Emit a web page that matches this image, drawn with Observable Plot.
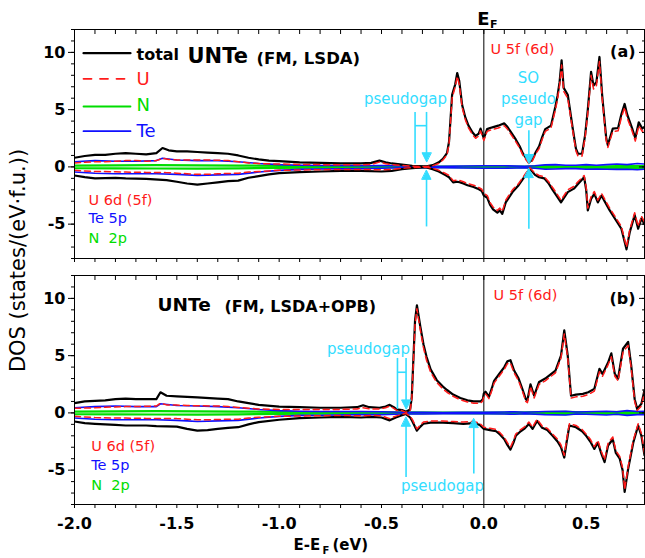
<!DOCTYPE html>
<html><head><meta charset="utf-8">
<script src="https://cdn.jsdelivr.net/npm/d3@7"></script>
<script src="https://cdn.jsdelivr.net/npm/@observablehq/plot@0.6"></script>
<style>
body{margin:0;background:#fff}
#wrap{position:relative;width:645px;height:558px;overflow:hidden;background:#fff}
</style></head><body>
<div id="wrap"></div>
<script>
// ---------- categories / tick labels ----------
const panels = ["a", "b"];
const xMajorTicks = [-2.0, -1.5, -1.0, -0.5, 0.0, 0.5];
const xMinorTicks = [-2.0,-1.9,-1.8,-1.7,-1.6,-1.5,-1.4,-1.3,-1.2,-1.1,-1.0,-0.9,-0.8,-0.7,-0.6,-0.5,-0.4,-0.3,-0.2,-0.1,0.0,0.1,0.2,0.3,0.4,0.5,0.6,0.7];
const yMajorTicks = [-5, 0, 5, 10];
const yMinorTicks = [-8,-7,-6,-5,-4,-3,-2,-1,0,1,2,3,4,5,6,7,8,9,10,11,12];
const legendNames = ["total", "U", "N", "Te"];
const compound = "UNTe";
const methods = ["(FM, LSDA)", "(FM, LSDA+OPB)"];
const panelTags = ["(a)", "(b)"];
const upperOrbital = "U 5f (6d)";
const lowerOrbitals = ["U 6d (5f)", "Te 5p", "N\u00a0 2p"];
const gapWord = "pseudogap";
const soGapWord = "SO\npseudo\ngap";
const fermiLabel = ["E", "F"];
const xTitle = ["E-E", "F", "(eV)"];
const yTitle = "DOS (states/(eV\u00b7f.u.))";

// pseudogap energies (eV)
const pseudogapA = [-0.336, -0.28];
const soPseudogapA = 0.22;
const pseudogapB = [-0.422, -0.38];
const pseudogapB2 = -0.049;

// ---------- panel (a): LSDA ----------
const totalUpA = [[-2.0,0.8],[-1.95,0.95],[-1.9,1.05],[-1.85,1.05],[-1.8,1.15],[-1.75,1.2],[-1.7,1.15],[-1.65,1.1],[-1.6,1.2],[-1.57,1.65],[-1.54,1.45],[-1.5,1.35],[-1.45,1.35],[-1.4,1.3],[-1.35,1.25],[-1.3,1.2],[-1.25,1.15],[-1.2,1.0],[-1.15,0.8],[-1.1,0.65],[-1.05,0.55],[-1.0,0.5],[-0.9,0.4],[-0.8,0.35],[-0.7,0.3],[-0.6,0.3],[-0.55,0.35],[-0.51,0.55],[-0.48,0.4],[-0.45,0.3],[-0.4,0.2],[-0.35,0.1],[-0.3,0.05],[-0.28,0.05],[-0.25,0.15],[-0.22,0.4],[-0.2,0.7],[-0.18,1.2],[-0.17,2.2],[-0.155,6.3],[-0.14,7.2],[-0.13,8.2],[-0.12,7.5],[-0.106,5.4],[-0.09,4.3],[-0.075,3.6],[-0.055,3.0],[-0.04,2.7],[-0.025,2.9],[-0.016,3.35],[-0.006,2.8],[0,2.5],[0.016,3.3],[0.03,3.4],[0.05,3.5],[0.07,3.6],[0.085,3.7],[0.1,3.8],[0.115,3.5],[0.13,3.1],[0.156,2.4],[0.175,1.8],[0.19,1.2],[0.205,0.8],[0.22,0.4],[0.235,0.6],[0.254,1.3],[0.27,1.8],[0.285,2.6],[0.3,3.3],[0.328,3.6],[0.35,5.3],[0.36,6.2],[0.37,7.4],[0.38,9.3],[0.39,6.9],[0.41,6.3],[0.434,3.4],[0.45,1.6],[0.46,1.15],[0.48,1.15],[0.495,2.8],[0.508,5.0],[0.524,8.3],[0.536,7.1],[0.55,7.4],[0.565,9.6],[0.578,6.3],[0.598,2.5],[0.606,1.9],[0.63,3.35],[0.656,3.4],[0.672,4.6],[0.688,5.5],[0.7,4.6],[0.725,3.35],[0.74,2.5],[0.757,3.9],[0.774,3.35],[0.785,3.5]];
const totalDnA = [[-2.0,-0.75],[-1.95,-0.9],[-1.9,-1.0],[-1.8,-0.95],[-1.75,-1.0],[-1.65,-1.05],[-1.55,-1.15],[-1.5,-1.3],[-1.45,-1.45],[-1.4,-1.55],[-1.35,-1.45],[-1.3,-1.35],[-1.25,-1.25],[-1.2,-1.2],[-1.15,-0.95],[-1.1,-0.8],[-1.05,-0.65],[-1.0,-0.55],[-0.9,-0.45],[-0.8,-0.4],[-0.7,-0.35],[-0.6,-0.35],[-0.5,-0.4],[-0.45,-0.35],[-0.4,-0.2],[-0.35,-0.1],[-0.3,-0.05],[-0.28,-0.05],[-0.25,-0.2],[-0.22,-0.4],[-0.19,-0.7],[-0.17,-0.9],[-0.15,-1.35],[-0.13,-1.3],[-0.115,-1.35],[-0.1,-1.45],[-0.08,-1.6],[-0.05,-1.75],[-0.03,-1.9],[-0.01,-2.1],[0,-2.5],[0.017,-2.7],[0.03,-3.3],[0.045,-3.7],[0.066,-4.0],[0.078,-3.8],[0.09,-4.1],[0.107,-3.1],[0.14,-2.2],[0.17,-1.6],[0.205,-0.7],[0.225,-0.15],[0.25,-0.7],[0.27,-0.9],[0.295,-1.0],[0.315,-1.4],[0.336,-2.0],[0.355,-2.5],[0.377,-3.1],[0.41,-2.2],[0.44,-1.9],[0.46,-1.5],[0.49,-0.9],[0.5,-2.0],[0.508,-3.8],[0.524,-2.8],[0.54,-2.35],[0.557,-3.1],[0.575,-2.5],[0.59,-3.0],[0.615,-3.8],[0.647,-4.7],[0.672,-5.4],[0.697,-7.2],[0.713,-5.7],[0.737,-4.2],[0.754,-5.4],[0.77,-4.5],[0.785,-5.0]];
const uUpA = [[-2.0,0.35],[-1.95,0.4],[-1.9,0.45],[-1.85,0.45],[-1.8,0.5],[-1.75,0.55],[-1.7,0.55],[-1.65,0.5],[-1.6,0.55],[-1.57,0.75],[-1.54,0.65],[-1.5,0.6],[-1.45,0.6],[-1.4,0.6],[-1.35,0.6],[-1.3,0.58],[-1.25,0.55],[-1.2,0.45],[-1.15,0.35],[-1.1,0.3],[-1.05,0.27],[-1.0,0.25],[-0.9,0.22],[-0.8,0.2],[-0.7,0.18],[-0.6,0.18],[-0.55,0.22],[-0.51,0.42],[-0.48,0.28],[-0.45,0.2],[-0.4,0.12],[-0.35,0.06],[-0.3,0.03],[-0.28,0.03],[-0.25,0.1],[-0.22,0.3],[-0.2,0.6],[-0.18,1.05],[-0.17,2.0],[-0.155,6.0],[-0.14,7.0],[-0.13,7.9],[-0.12,7.2],[-0.106,5.2],[-0.09,4.1],[-0.075,3.4],[-0.055,2.8],[-0.04,2.5],[-0.025,2.7],[-0.016,3.15],[-0.006,2.6],[0,2.3],[0.016,3.1],[0.03,3.2],[0.05,3.3],[0.07,3.4],[0.085,3.5],[0.1,3.6],[0.115,3.3],[0.13,2.9],[0.156,2.2],[0.175,1.65],[0.19,1.05],[0.205,0.65],[0.22,0.3],[0.235,0.45],[0.254,1.15],[0.27,1.6],[0.285,2.4],[0.3,3.1],[0.328,3.4],[0.35,5.0],[0.36,5.9],[0.37,7.1],[0.38,8.9],[0.39,6.6],[0.41,6.0],[0.434,3.2],[0.45,1.4],[0.46,0.95],[0.48,0.95],[0.495,2.6],[0.508,4.7],[0.524,8.0],[0.536,6.8],[0.55,7.1],[0.565,9.2],[0.578,6.0],[0.598,2.3],[0.606,1.7],[0.63,3.1],[0.656,3.15],[0.672,4.3],[0.688,5.2],[0.7,4.3],[0.725,3.1],[0.74,2.25],[0.757,3.6],[0.774,3.1],[0.785,3.2]];
const uDnA = [[-2.0,-0.3],[-1.95,-0.35],[-1.9,-0.4],[-1.8,-0.42],[-1.75,-0.45],[-1.65,-0.48],[-1.55,-0.5],[-1.5,-0.55],[-1.45,-0.6],[-1.4,-0.65],[-1.35,-0.65],[-1.3,-0.6],[-1.25,-0.58],[-1.2,-0.55],[-1.15,-0.45],[-1.1,-0.4],[-1.05,-0.35],[-1.0,-0.3],[-0.9,-0.27],[-0.8,-0.25],[-0.7,-0.22],[-0.6,-0.22],[-0.5,-0.25],[-0.45,-0.22],[-0.4,-0.12],[-0.35,-0.06],[-0.3,-0.03],[-0.28,-0.03],[-0.25,-0.12],[-0.22,-0.3],[-0.19,-0.55],[-0.17,-0.75],[-0.15,-1.2],[-0.13,-1.15],[-0.115,-1.2],[-0.1,-1.3],[-0.08,-1.45],[-0.05,-1.6],[-0.03,-1.75],[-0.01,-1.95],[0,-2.3],[0.017,-2.5],[0.03,-3.1],[0.045,-3.5],[0.066,-3.8],[0.078,-3.6],[0.09,-3.9],[0.107,-2.9],[0.14,-2.0],[0.17,-1.45],[0.205,-0.55],[0.225,-0.08],[0.25,-0.55],[0.27,-0.75],[0.295,-0.85],[0.315,-1.25],[0.336,-1.8],[0.355,-2.3],[0.377,-2.9],[0.41,-2.0],[0.44,-1.7],[0.46,-1.3],[0.49,-0.75],[0.5,-1.8],[0.508,-3.6],[0.524,-2.6],[0.54,-2.15],[0.557,-2.9],[0.575,-2.3],[0.59,-2.8],[0.615,-3.6],[0.647,-4.5],[0.672,-5.2],[0.697,-7.0],[0.713,-5.5],[0.737,-4.0],[0.754,-5.2],[0.77,-4.3],[0.785,-4.8]];
const teUpA = [[-2.0,0.45],[-1.9,0.55],[-1.8,0.5],[-1.7,0.5],[-1.6,0.55],[-1.57,0.75],[-1.5,0.6],[-1.4,0.55],[-1.3,0.55],[-1.2,0.45],[-1.1,0.3],[-1.0,0.2],[-0.9,0.15],[-0.8,0.12],[-0.6,0.1],[-0.5,0.12],[-0.4,0.08],[-0.3,0.04],[-0.2,0.05],[-0.1,0.08],[0,0.1],[0.1,0.1],[0.2,0.06],[0.25,0.1],[0.3,0.18],[0.35,0.2],[0.4,0.15],[0.45,0.15],[0.5,0.2],[0.55,0.15],[0.6,0.2],[0.65,0.25],[0.7,0.2],[0.75,0.3],[0.785,0.25]];
const teDnA = [[-2.0,-0.45],[-1.9,-0.55],[-1.8,-0.6],[-1.7,-0.6],[-1.6,-0.6],[-1.5,-0.65],[-1.45,-0.7],[-1.4,-0.75],[-1.3,-0.7],[-1.2,-0.65],[-1.1,-0.45],[-1.0,-0.3],[-0.9,-0.22],[-0.8,-0.18],[-0.6,-0.15],[-0.5,-0.12],[-0.4,-0.08],[-0.3,-0.04],[-0.2,-0.06],[-0.1,-0.1],[0,-0.12],[0.1,-0.12],[0.2,-0.08],[0.25,-0.12],[0.3,-0.2],[0.35,-0.18],[0.4,-0.15],[0.45,-0.15],[0.5,-0.2],[0.55,-0.18],[0.6,-0.2],[0.65,-0.22],[0.7,-0.2],[0.75,-0.25],[0.785,-0.2]];
const nUpA = [[-2.0,0.12],[-1.8,0.14],[-1.6,0.15],[-1.4,0.14],[-1.2,0.12],[-1.0,0.08],[-0.8,0.06],[-0.6,0.05],[-0.4,0.03],[-0.2,0.02],[0.0,0.03],[0.2,0.03],[0.3,0.1],[0.35,0.05],[0.45,0.04],[0.5,0.08],[0.6,0.05],[0.7,0.1],[0.785,0.08]];
const nDnA = [[-2.0,-0.12],[-1.8,-0.13],[-1.6,-0.14],[-1.4,-0.15],[-1.2,-0.13],[-1.0,-0.09],[-0.8,-0.06],[-0.6,-0.05],[-0.4,-0.03],[-0.2,-0.03],[0.0,-0.04],[0.2,-0.03],[0.3,-0.08],[0.35,-0.06],[0.45,-0.05],[0.5,-0.08],[0.6,-0.06],[0.7,-0.1],[0.785,-0.08]];

// ---------- panel (b): LSDA+OPB ----------
const totalUpB = [[-2.0,0.85],[-1.95,1.0],[-1.9,1.05],[-1.85,1.1],[-1.8,1.2],[-1.75,1.25],[-1.7,1.2],[-1.65,1.2],[-1.6,1.2],[-1.58,1.8],[-1.55,1.5],[-1.5,1.45],[-1.45,1.4],[-1.4,1.35],[-1.3,1.25],[-1.25,1.2],[-1.2,1.0],[-1.15,0.85],[-1.1,0.7],[-1.0,0.55],[-0.9,0.5],[-0.8,0.45],[-0.7,0.45],[-0.62,0.5],[-0.59,0.67],[-0.56,0.5],[-0.51,0.45],[-0.48,0.55],[-0.46,0.7],[-0.44,0.5],[-0.426,0.3],[-0.4,0.25],[-0.38,0.1],[-0.36,0.3],[-0.352,1.4],[-0.336,8.1],[-0.327,9.4],[-0.31,7.5],[-0.295,6.0],[-0.28,4.9],[-0.26,3.8],[-0.23,2.86],[-0.2,2.3],[-0.18,2.0],[-0.15,1.6],[-0.115,1.3],[-0.08,1.1],[-0.05,1.0],[-0.016,1.0],[-0.005,1.2],[0,1.7],[0.008,1.85],[0.018,1.6],[0.025,1.4],[0.04,2.2],[0.05,2.8],[0.075,3.4],[0.1,4.0],[0.115,4.5],[0.13,4.6],[0.148,3.7],[0.17,3.0],[0.19,2.0],[0.205,1.2],[0.213,1.1],[0.228,2.5],[0.246,1.5],[0.27,2.7],[0.3,3.0],[0.35,3.7],[0.377,5.0],[0.393,7.2],[0.41,5.0],[0.426,1.5],[0.45,1.6],[0.484,1.66],[0.51,1.8],[0.54,2.1],[0.565,3.85],[0.58,3.4],[0.607,4.4],[0.623,5.2],[0.64,3.4],[0.656,3.0],[0.68,5.6],[0.705,6.2],[0.72,4.15],[0.737,1.2],[0.749,0.35],[0.77,0.8],[0.785,2.0]];
const totalDnB = [[-2.0,-0.75],[-1.95,-0.9],[-1.9,-0.95],[-1.8,-1.05],[-1.75,-1.1],[-1.65,-1.1],[-1.6,-1.15],[-1.5,-1.2],[-1.45,-1.4],[-1.4,-1.55],[-1.35,-1.5],[-1.3,-1.4],[-1.25,-1.3],[-1.2,-1.25],[-1.15,-1.0],[-1.1,-0.8],[-1.0,-0.6],[-0.9,-0.45],[-0.8,-0.4],[-0.7,-0.35],[-0.6,-0.4],[-0.55,-0.35],[-0.5,-0.4],[-0.46,-0.65],[-0.43,-0.4],[-0.4,-0.2],[-0.38,-0.1],[-0.36,-0.4],[-0.35,-0.7],[-0.327,-1.55],[-0.31,-1.2],[-0.295,-0.95],[-0.26,-0.85],[-0.2,-0.85],[-0.15,-0.9],[-0.1,-0.95],[-0.05,-0.9],[-0.02,-1.05],[0,-1.4],[0.03,-1.5],[0.06,-1.6],[0.08,-1.9],[0.1,-2.3],[0.115,-2.8],[0.13,-3.2],[0.145,-2.6],[0.156,-2.0],[0.18,-1.6],[0.197,-1.4],[0.22,-0.96],[0.238,-1.4],[0.26,-0.7],[0.285,-1.3],[0.31,-1.5],[0.336,-2.0],[0.36,-2.5],[0.377,-3.0],[0.393,-3.9],[0.405,-2.5],[0.418,-1.1],[0.45,-1.25],[0.48,-1.6],[0.5,-2.0],[0.52,-2.5],[0.54,-3.15],[0.557,-2.6],[0.575,-3.6],[0.59,-4.3],[0.607,-2.85],[0.63,-2.3],[0.645,-3.5],[0.664,-4.0],[0.678,-5.0],[0.688,-6.9],[0.705,-4.9],[0.73,-2.6],[0.754,-1.1],[0.77,-2.0],[0.785,-3.7]];
const uUpB = [[-2.0,0.4],[-1.95,0.42],[-1.9,0.45],[-1.85,0.5],[-1.8,0.52],[-1.75,0.55],[-1.7,0.55],[-1.65,0.58],[-1.6,0.6],[-1.58,0.85],[-1.55,0.7],[-1.5,0.68],[-1.45,0.65],[-1.4,0.62],[-1.3,0.6],[-1.25,0.55],[-1.2,0.48],[-1.15,0.4],[-1.1,0.35],[-1.0,0.3],[-0.9,0.3],[-0.8,0.3],[-0.7,0.3],[-0.62,0.35],[-0.59,0.45],[-0.56,0.35],[-0.51,0.35],[-0.48,0.45],[-0.46,0.6],[-0.44,0.4],[-0.426,0.22],[-0.4,0.2],[-0.38,0.05],[-0.36,0.2],[-0.352,1.25],[-0.336,7.8],[-0.327,9.1],[-0.31,7.2],[-0.295,5.7],[-0.28,4.6],[-0.26,3.55],[-0.23,2.65],[-0.2,2.1],[-0.18,1.8],[-0.15,1.45],[-0.115,1.15],[-0.08,0.95],[-0.05,0.85],[-0.016,0.85],[-0.005,1.05],[0,1.5],[0.008,1.65],[0.018,1.45],[0.025,1.25],[0.04,2.0],[0.05,2.6],[0.075,3.2],[0.1,3.8],[0.115,4.3],[0.13,4.35],[0.148,3.5],[0.17,2.8],[0.19,1.8],[0.205,1.0],[0.213,0.9],[0.228,2.3],[0.246,1.3],[0.27,2.5],[0.3,2.8],[0.35,3.5],[0.377,4.8],[0.393,6.9],[0.41,4.8],[0.426,1.3],[0.45,1.4],[0.484,1.45],[0.51,1.6],[0.54,1.9],[0.565,3.6],[0.58,3.2],[0.607,4.2],[0.623,4.9],[0.64,3.2],[0.656,2.8],[0.68,5.3],[0.705,5.9],[0.72,3.9],[0.737,1.0],[0.749,0.2],[0.77,0.6],[0.785,1.8]];
const uDnB = [[-2.0,-0.3],[-1.95,-0.35],[-1.9,-0.4],[-1.8,-0.45],[-1.75,-0.45],[-1.65,-0.48],[-1.6,-0.5],[-1.5,-0.5],[-1.45,-0.55],[-1.4,-0.6],[-1.35,-0.6],[-1.3,-0.58],[-1.25,-0.55],[-1.2,-0.55],[-1.15,-0.45],[-1.1,-0.38],[-1.0,-0.3],[-0.9,-0.27],[-0.8,-0.25],[-0.7,-0.22],[-0.6,-0.25],[-0.55,-0.22],[-0.5,-0.25],[-0.46,-0.5],[-0.43,-0.28],[-0.4,-0.12],[-0.38,-0.05],[-0.36,-0.3],[-0.35,-0.55],[-0.327,-1.4],[-0.31,-1.05],[-0.295,-0.8],[-0.26,-0.7],[-0.2,-0.7],[-0.15,-0.75],[-0.1,-0.8],[-0.05,-0.75],[-0.02,-0.9],[0,-1.25],[0.03,-1.35],[0.06,-1.45],[0.08,-1.75],[0.1,-2.15],[0.115,-2.6],[0.13,-3.0],[0.145,-2.4],[0.156,-1.85],[0.18,-1.45],[0.197,-1.25],[0.22,-0.8],[0.238,-1.25],[0.26,-0.55],[0.285,-1.15],[0.31,-1.35],[0.336,-1.85],[0.36,-2.3],[0.377,-2.8],[0.393,-3.7],[0.405,-2.3],[0.418,-0.95],[0.45,-1.1],[0.48,-1.45],[0.5,-1.85],[0.52,-2.3],[0.54,-2.95],[0.557,-2.4],[0.575,-3.4],[0.59,-4.1],[0.607,-2.65],[0.63,-2.1],[0.645,-3.3],[0.664,-3.8],[0.678,-4.8],[0.688,-6.7],[0.705,-4.7],[0.73,-2.4],[0.754,-0.95],[0.77,-1.8],[0.785,-3.5]];
const teUpB = [[-2.0,0.45],[-1.9,0.55],[-1.8,0.6],[-1.7,0.55],[-1.6,0.55],[-1.58,0.8],[-1.5,0.65],[-1.4,0.6],[-1.3,0.55],[-1.2,0.45],[-1.1,0.3],[-1.0,0.2],[-0.9,0.15],[-0.8,0.12],[-0.6,0.12],[-0.5,0.1],[-0.4,0.06],[-0.3,0.05],[-0.2,0.04],[-0.1,0.05],[0,0.05],[0.1,0.08],[0.15,0.1],[0.2,0.06],[0.3,0.12],[0.4,0.15],[0.45,0.08],[0.5,0.1],[0.6,0.15],[0.65,0.1],[0.7,0.2],[0.75,0.12],[0.785,0.15]];
const teDnB = [[-2.0,-0.45],[-1.9,-0.55],[-1.8,-0.6],[-1.7,-0.6],[-1.6,-0.6],[-1.5,-0.65],[-1.45,-0.7],[-1.4,-0.75],[-1.3,-0.7],[-1.2,-0.65],[-1.1,-0.45],[-1.0,-0.3],[-0.9,-0.22],[-0.8,-0.2],[-0.6,-0.15],[-0.5,-0.15],[-0.4,-0.1],[-0.3,-0.1],[-0.2,-0.08],[-0.1,-0.08],[0,-0.08],[0.1,-0.1],[0.15,-0.12],[0.2,-0.08],[0.3,-0.15],[0.4,-0.18],[0.45,-0.1],[0.5,-0.12],[0.6,-0.18],[0.65,-0.12],[0.7,-0.22],[0.75,-0.15],[0.785,-0.15]];
const nUpB = [[-2.0,0.12],[-1.8,0.14],[-1.6,0.15],[-1.4,0.14],[-1.2,0.12],[-1.0,0.08],[-0.8,0.06],[-0.6,0.05],[-0.4,0.04],[-0.2,0.02],[0.0,0.03],[0.2,0.04],[0.3,0.08],[0.4,0.1],[0.5,0.05],[0.6,0.08],[0.7,0.1],[0.785,0.06]];
const nDnB = [[-2.0,-0.12],[-1.8,-0.13],[-1.6,-0.14],[-1.4,-0.15],[-1.2,-0.13],[-1.0,-0.09],[-0.8,-0.06],[-0.6,-0.05],[-0.4,-0.04],[-0.2,-0.03],[0.0,-0.04],[0.2,-0.04],[0.3,-0.08],[0.4,-0.1],[0.5,-0.06],[0.6,-0.08],[0.7,-0.1],[0.785,-0.06]];

// ---------- build table ----------
const rows = (arr, panel, series, spin) => arr.map(([E, D]) => ({panel, series, spin, E, D}));
const dos = [
  ...rows(totalUpA, "a", "total", "up"), ...rows(totalDnA, "a", "total", "dn"),
  ...rows(uUpA, "a", "U", "up"), ...rows(uDnA, "a", "U", "dn"),
  ...rows(teUpA, "a", "Te", "up"), ...rows(teDnA, "a", "Te", "dn"),
  ...rows(nUpA, "a", "N", "up"), ...rows(nDnA, "a", "N", "dn"),
  ...rows(totalUpB, "b", "total", "up"), ...rows(totalDnB, "b", "total", "dn"),
  ...rows(uUpB, "b", "U", "up"), ...rows(uDnB, "b", "U", "dn"),
  ...rows(teUpB, "b", "Te", "up"), ...rows(teDnB, "b", "Te", "dn"),
  ...rows(nUpB, "b", "N", "up"), ...rows(nDnB, "b", "N", "dn")
];
const bySeries = s => dos.filter(d => d.series === s);

const FAM = "DejaVu Sans";
const BLACK = "#000000", RED = "#ff1a1a", GREEN = "#00dd00", BLUE = "#1010ff", CYAN = "#33ddff";

// annotation geometry built from pseudogap energies
const shafts = [
  {panel: "a", E: pseudogapA[0], D1: 4.8, D2: 0.3},
  {panel: "a", E: pseudogapA[1], D1: 4.8, D2: 0.9},
  {panel: "a", E: pseudogapA[1], D1: -5.2, D2: -0.8},
  {panel: "a", E: soPseudogapA, D1: 3.2, D2: 0.8},
  {panel: "a", E: soPseudogapA, D1: -5.4, D2: -0.6},
  {panel: "b", E: pseudogapB[0], D1: 4.8, D2: 0.35},
  {panel: "b", E: pseudogapB[1], D1: 4.8, D2: 0.8},
  {panel: "b", E: pseudogapB[1], D1: -5.6, D2: -0.8},
  {panel: "b", E: pseudogapB2, D1: -5.3, D2: -0.9}
];
const bars = [
  {panel: "a", E1: pseudogapA[0], E2: pseudogapA[1], D: 3.6},
  {panel: "b", E1: pseudogapB[0], E2: pseudogapB[1], D: 3.55}
];
const headsDown = [
  {panel: "a", E: pseudogapA[1], D: 0.45},
  {panel: "a", E: soPseudogapA, D: 0.3},
  {panel: "b", E: pseudogapB[1], D: 0.35}
];
const headsUp = [
  {panel: "a", E: pseudogapA[1], D: -0.3},
  {panel: "a", E: soPseudogapA, D: -0.15},
  {panel: "b", E: pseudogapB[1], D: -0.38},
  {panel: "b", E: pseudogapB2, D: -0.5}
];

const seg = {draw(ctx, l) { ctx.moveTo(0, 0); ctx.lineTo(0, -l); }};
const tri = {draw(ctx, l) { ctx.moveTo(0, 0); ctx.lineTo(-l * 0.5, -l); ctx.lineTo(l * 0.5, -l); ctx.closePath(); }};

function label(panel, text, dx, dy, opts = {}, anchor = "top-left") {
  return Plot.text([{panel, text}], {
    fy: "panel", text: "text", frameAnchor: anchor, textAnchor: "start", lineAnchor: "middle",
    dx, dy, fontFamily: FAM, fontSize: 14.5, fill: BLACK, ...opts
  });
}
function swatch(dy, opts) {
  return Plot.vector([{panel: "a"}], {fy: "panel", frameAnchor: "top-left", dx: 9, dy, length: 47,
    rotate: 90, anchor: "start", shape: seg, ...opts});
}

const chart = Plot.plot({
  width: 645, height: 558,
  marginTop: 29, marginBottom: 54, marginLeft: 74, marginRight: 1,
  style: {fontFamily: FAM, background: "white", overflow: "visible"},
  x: {domain: [-2, 0.785], nice: false},
  y: {domain: [-8, 12], nice: false},
  fy: {domain: panels, axis: null, paddingInner: 0.0691, paddingOuter: 0, round: false},
  marks: [
    Plot.ruleX([0], {stroke: BLACK, strokeWidth: 1}),
    Plot.line(bySeries("N"), {x: "E", y: "D", z: "spin", fy: "panel", stroke: GREEN, strokeWidth: 2.2, clip: true}),
    Plot.line(bySeries("Te"), {x: "E", y: "D", z: "spin", fy: "panel", stroke: BLUE, strokeWidth: 1.6, clip: true}),
    Plot.line(bySeries("total"), {x: "E", y: "D", z: "spin", fy: "panel", stroke: BLACK, strokeWidth: 2.2, strokeLinejoin: "round", clip: true}),
    Plot.line(bySeries("U"), {x: "E", y: "D", z: "spin", fy: "panel", stroke: RED, strokeWidth: 1.5, strokeDasharray: "6,4", clip: true}),
    Plot.frame({stroke: BLACK, strokeWidth: 1}),
    // y axes
    Plot.axisY(yMinorTicks, {anchor: "left", facetAnchor: null, tickSize: 3, tickFormat: () => "", label: null}),
    Plot.axisY(yMajorTicks, {anchor: "left", facetAnchor: null, tickSize: 6, tickPadding: 3, tickFormat: d => String(d), label: null, fontSize: 16, fontWeight: "bold", fontFamily: FAM}),
    Plot.axisY(yMinorTicks, {anchor: "right", facetAnchor: null, tickSize: -3, tickFormat: () => "", label: null}),
    Plot.axisY(yMajorTicks, {anchor: "right", facetAnchor: null, tickSize: -6, tickFormat: () => "", label: null}),
    // x axes
    Plot.axisX(xMinorTicks, {anchor: "top", facetAnchor: null, tickSize: -4, tickFormat: () => "", label: null}),
    Plot.axisX(xMinorTicks, {anchor: "bottom", facetAnchor: null, tickSize: 4, tickFormat: () => "", label: null}),
    Plot.axisX(xMajorTicks, {anchor: "bottom", tickSize: 0, tickPadding: 13, tickFormat: d => d.toFixed(1), label: null, fontSize: 16, fontWeight: "bold", fontFamily: FAM}),
    // pseudogap annotations
    Plot.link(shafts, {x1: "E", x2: "E", y1: "D1", y2: "D2", fy: "panel", stroke: CYAN, strokeWidth: 1.6}),
    Plot.link(bars, {x1: "E1", x2: "E2", y1: "D", y2: "D", fy: "panel", stroke: CYAN, strokeWidth: 1.6}),
    Plot.vector(headsDown, {x: "E", y: "D", fy: "panel", length: 9, rotate: 0, anchor: "start", shape: tri, fill: CYAN, stroke: CYAN, strokeWidth: 1}),
    Plot.vector(headsUp, {x: "E", y: "D", fy: "panel", length: 9, rotate: 180, anchor: "start", shape: tri, fill: CYAN, stroke: CYAN, strokeWidth: 1}),
    // legend (panel a)
    swatch(23.7, {stroke: BLACK, strokeWidth: 2.2}),
    swatch(49.3, {stroke: RED, strokeWidth: 1.8, strokeDasharray: "8,8.5"}),
    swatch(77, {stroke: GREEN, strokeWidth: 1.8}),
    swatch(101.7, {stroke: BLUE, strokeWidth: 1.8}),
    label("a", legendNames[0], 62, 25, {fontSize: 16, fontWeight: "bold"}),
    label("a", legendNames[1], 62, 49.3, {fontSize: 18, fill: RED}),
    label("a", legendNames[2], 62, 76, {fontSize: 18, fill: GREEN}),
    label("a", legendNames[3], 62, 101.7, {fontSize: 18, fill: BLUE}),
    // titles
    label("a", compound, 113, 26.5, {fontSize: 21, fontWeight: "bold"}),
    label("a", methods[0], 182, 29, {fontSize: 16.5, fontWeight: "bold"}),
    label("b", compound, 83, 30, {fontSize: 18.5, fontWeight: "bold"}),
    label("b", methods[1], 150, 31.5, {fontSize: 16, fontWeight: "bold"}),
    label("a", panelTags[0], 561, 22, {fontSize: 16, fontWeight: "bold", textAnchor: "end"}),
    label("b", panelTags[1], 561, 23, {fontSize: 16, fontWeight: "bold", textAnchor: "end"}),
    // orbital labels
    label("a", upperOrbital, 416, 20, {fill: RED}),
    label("b", upperOrbital, 419, 20, {fill: RED}),
    label("a", lowerOrbitals[0], 14, 170.5, {fill: RED}),
    label("a", lowerOrbitals[1], 14, 189, {fill: BLUE}),
    label("a", lowerOrbitals[2], 14, 209, {fill: GREEN}),
    label("b", lowerOrbitals[0], 16.7, 171, {fill: RED}),
    label("b", lowerOrbitals[1], 16.7, 190, {fill: BLUE}),
    label("b", lowerOrbitals[2], 16.7, 210, {fill: GREEN}),
    // pseudogap words
    label("a", gapWord, 331, 69.3, {fontSize: 15, fill: CYAN, textAnchor: "middle"}),
    label("a", soGapWord, 454, 68, {fontSize: 15, fill: CYAN, textAnchor: "middle", lineHeight: 1.4}),
    label("b", gapWord, 294, 73.3, {fontSize: 15, fill: CYAN, textAnchor: "middle"}),
    label("b", gapWord, 368, 211, {fontSize: 15, fill: CYAN, textAnchor: "middle"}),
    // E_F above panel a
    label("a", fermiLabel[0], 402.7, -10.7, {fontSize: 18, fontWeight: "bold"}),
    label("a", fermiLabel[1], 415.5, -4.8, {fontSize: 11, fontWeight: "bold"}),
    // x title below panel b
    label("b", xTitle[0], 219, 41, {fontSize: 15, fontWeight: "bold"}, "bottom-left"),
    label("b", xTitle[1], 248, 46, {fontSize: 10, fontWeight: "bold"}, "bottom-left"),
    label("b", xTitle[2], 258, 41, {fontSize: 15, fontWeight: "bold"}, "bottom-left"),
    // y title
    label("a", yTitle, -56.5, 2, {fontSize: 21, textAnchor: "middle", rotate: -90}, "bottom-left")
  ]
});
document.getElementById("wrap").appendChild(chart);
</script>
</body></html>
